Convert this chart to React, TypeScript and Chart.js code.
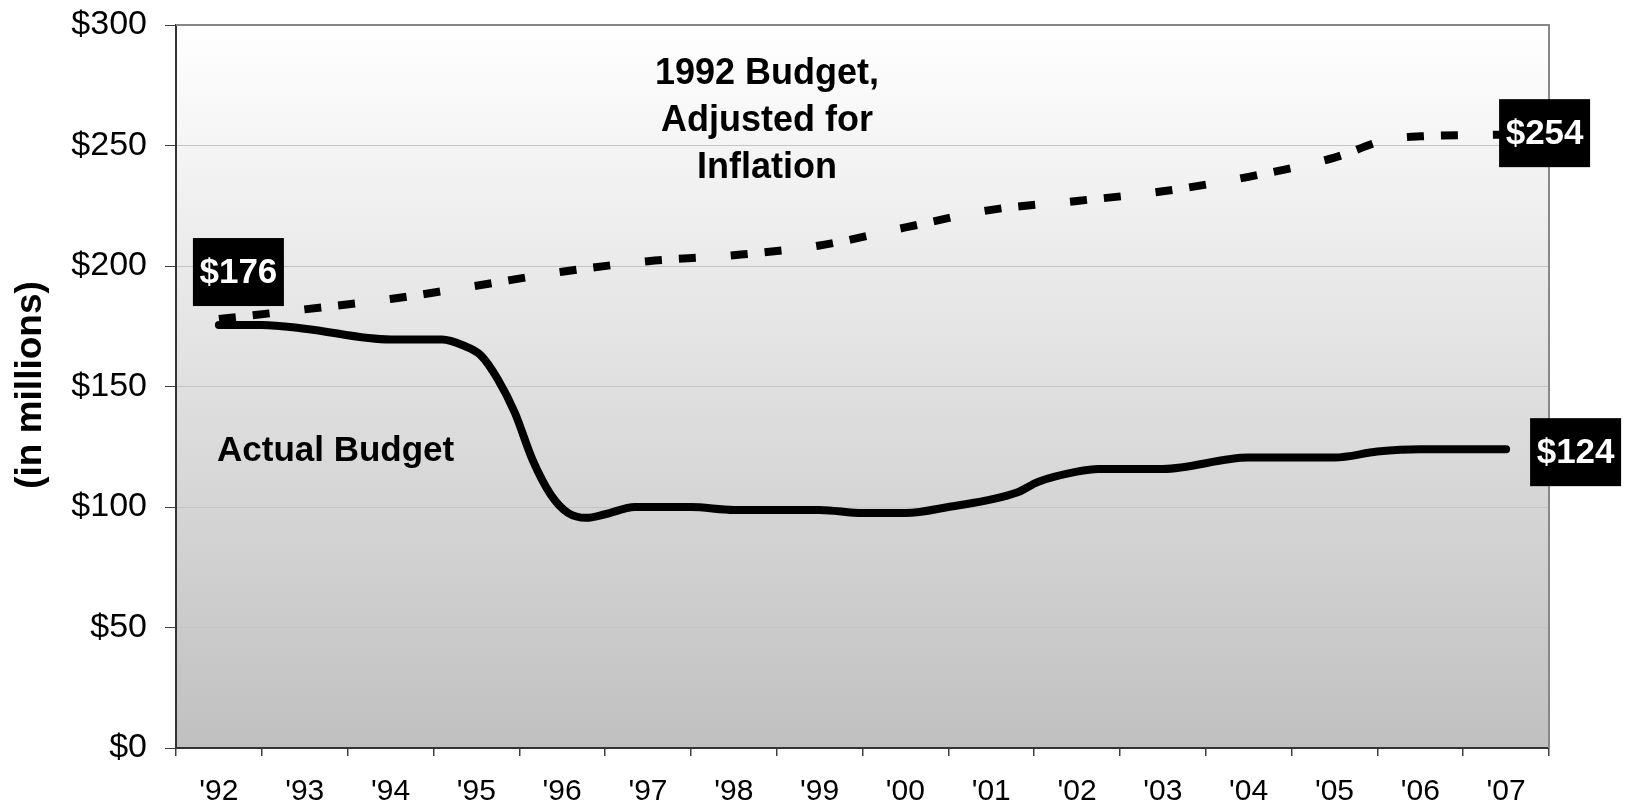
import React, { useEffect, useRef } from 'react';
import { Chart, registerables } from 'chart.js';

Chart.register(...registerables);

const FONT = "'Liberation Sans', Arial, Helvetica, sans-serif";

const YEAR_LABELS = ["'92", "'93", "'94", "'95", "'96", "'97", "'98", "'99", "'00", "'01", "'02", "'03", "'04", "'05", "'06", "'07"];

const ACTUAL_YEARS = [1992, 1992.5, 1993, 1994, 1994.6, 1994.85, 1995.05, 1995.25, 1995.45, 1995.65, 1995.87, 1996.07, 1996.28, 1996.5, 1996.85, 1997.5, 1998, 1999, 1999.5, 2000, 2000.5, 2001.3, 2001.55, 2002, 2002.25, 2003, 2004, 2005, 2005.5, 2006, 2007];
const ACTUAL_VALUES = [175.5, 175.5, 174, 169.5, 169.5, 167, 163, 153, 139, 120, 105, 97.5, 95.5, 97, 100, 100, 98.8, 98.8, 97.5, 97.5, 100, 106, 110.5, 114.7, 115.8, 115.8, 120.5, 120.5, 123, 124, 124];

const ADJUSTED_YEARS = [1992, 1993, 1994, 1995, 1996, 1997, 1998, 1999, 2000, 2001, 2002, 2003, 2004, 2005, 2005.6, 2006, 2007];
const ADJUSTED_VALUES = [178, 182, 186.3, 191.8, 197.6, 202, 204.5, 208.5, 216, 223.3, 227, 231, 237, 245, 252.3, 253.8, 254.5];

const Y_MIN = 0;
const Y_MAX = 300;
const Y_STEP = 50;

const CALLOUT_START = '$176';
const CALLOUT_ADJUSTED_END = '$254';
const CALLOUT_ACTUAL_END = '$124';
const NOTE_ADJUSTED = ['1992 Budget,', 'Adjusted for', 'Inflation'];
const NOTE_ACTUAL = 'Actual Budget';
const Y_TITLE = '(in millions)';

const toPoints = (xs: number[], ys: number[]) => xs.map((x, i) => ({ x, y: ys[i] }));

const decorPlugin = {
  id: 'decor',
  beforeDraw(chart: any) {
    const { ctx, chartArea: a } = chart;
    const g = ctx.createLinearGradient(0, a.top, 0, a.bottom);
    g.addColorStop(0, '#ffffff');
    g.addColorStop(1, '#c0c0c0');
    ctx.save();
    ctx.fillStyle = g;
    ctx.fillRect(a.left, a.top, a.right - a.left, a.bottom - a.top);
    ctx.restore();
  },
  beforeDatasetsDraw(chart: any) {
    const { ctx, chartArea: a } = chart;
    ctx.save();
    ctx.strokeStyle = '#888888';
    ctx.lineWidth = 2;
    ctx.beginPath();
    ctx.moveTo(a.left, a.top);
    ctx.lineTo(a.right, a.top);
    ctx.lineTo(a.right, a.bottom);
    ctx.stroke();
    ctx.restore();
  },
  afterDraw(chart: any) {
    const { ctx } = chart;
    const xs = chart.scales.x;
    const ys = chart.scales.y;

    const box = (text: string, cx: number, cy: number) => {
      const w = 91, h = 68;
      ctx.save();
      ctx.fillStyle = '#000000';
      ctx.fillRect(cx - w / 2, cy - h / 2, w, h);
      ctx.fillStyle = '#ffffff';
      ctx.font = `bold 35px ${FONT}`;
      ctx.textAlign = 'center';
      ctx.textBaseline = 'middle';
      ctx.fillText(text, cx, cy + 1);
      ctx.restore();
    };

    const sx = xs.getPixelForValue(ACTUAL_YEARS[0]);
    const sy = ys.getPixelForValue(ACTUAL_VALUES[0]);
    box(CALLOUT_START, sx + 19.5, sy - 53);

    const aLast = ADJUSTED_YEARS.length - 1;
    const ax = xs.getPixelForValue(ADJUSTED_YEARS[aLast]);
    const ay = ys.getPixelForValue(ADJUSTED_VALUES[aLast]);
    box(CALLOUT_ADJUSTED_END, ax + 38.5, ay - 1.5);

    const rLast = ACTUAL_YEARS.length - 1;
    const rx = xs.getPixelForValue(ACTUAL_YEARS[rLast]);
    const ry = ys.getPixelForValue(ACTUAL_VALUES[rLast]);
    box(CALLOUT_ACTUAL_END, rx + 69.5, ry + 3);

    ctx.save();
    ctx.fillStyle = '#000000';
    ctx.font = `bold 36px ${FONT}`;
    ctx.textAlign = 'center';
    ctx.textBaseline = 'alphabetic';
    NOTE_ADJUSTED.forEach((line, i) => {
      ctx.fillText(line, 767, 84 + i * 47);
    });
    ctx.font = `bold 35px ${FONT}`;
    ctx.textAlign = 'left';
    ctx.fillText(NOTE_ACTUAL, 217, 461);

    ctx.translate(31, 385);
    ctx.rotate(-Math.PI / 2);
    ctx.textAlign = 'center';
    ctx.textBaseline = 'middle';
    ctx.font = `bold 37px ${FONT}`;
    ctx.fillText(Y_TITLE, 0, 0);
    ctx.restore();
  },
};

export default function App() {
  const canvasRef = useRef<HTMLCanvasElement | null>(null);

  useEffect(() => {
    document.body.style.margin = '0';
    const canvas = canvasRef.current;
    if (!canvas) return;
    Chart.defaults.font.family = FONT;

    const chart = new Chart(canvas, {
      type: 'line',
      data: {
        labels: YEAR_LABELS,
        datasets: [
          {
            label: 'Actual Budget',
            data: toPoints(ACTUAL_YEARS, ACTUAL_VALUES),
            borderColor: '#000000',
            borderWidth: 8,
            borderCapStyle: 'round',
            borderJoinStyle: 'round',
            pointRadius: 0,
            cubicInterpolationMode: 'monotone',
            tension: 0.4,
            fill: false,
          },
          {
            label: '1992 Budget, Adjusted for Inflation',
            data: toPoints(ADJUSTED_YEARS, ADJUSTED_VALUES),
            borderColor: '#000000',
            borderWidth: 8,
            borderDash: [17, 17, 17, 35],
            borderCapStyle: 'butt',
            pointRadius: 0,
            cubicInterpolationMode: 'monotone',
            tension: 0.4,
            fill: false,
          },
        ],
      },
      options: {
        animation: false,
        responsive: false,
        devicePixelRatio: 1,
        layout: { padding: { top: 25, right: 80, left: 0, bottom: 0 } },
        plugins: {
          legend: { display: false },
          tooltip: { enabled: false },
          title: { display: false },
        },
        scales: {
          x: {
            type: 'linear',
            min: 1991.5,
            max: 2007.5,
            display: false,
          },
          xCat: {
            type: 'category',
            labels: YEAR_LABELS,
            position: 'bottom',
            offset: true,
            grid: {
              offset: true,
              drawOnChartArea: false,
              drawTicks: true,
              tickLength: 8,
              color: '#404040',
              lineWidth: 1.5,
            },
            border: { display: true, color: '#333333', width: 2 },
            ticks: {
              font: { family: FONT, size: 30 },
              color: '#000000',
              padding: 18,
              maxRotation: 0,
              autoSkip: false,
            },
            afterFit: (s: any) => {
              s.height = 60;
              s.paddingLeft = 0;
              s.paddingRight = 0;
            },
          },
          y: {
            type: 'linear',
            min: Y_MIN,
            max: Y_MAX,
            ticks: {
              stepSize: Y_STEP,
              callback: (v: any) => '$' + v,
              font: { family: FONT, size: 34 },
              color: '#000000',
              padding: 18,
            },
            grid: {
              color: '#c4c4c4',
              lineWidth: 1,
              tickLength: 11,
              tickColor: '#404040',
              drawTicks: true,
            },
            border: { display: true, color: '#333333', width: 2 },
            afterFit: (s: any) => {
              s.width = 176;
              s.paddingTop = 0;
              s.paddingBottom = 0;
            },
          },
        },
      },
      plugins: [decorPlugin],
    } as any);

    return () => {
      chart.destroy();
    };
  }, []);

  return (
    <div style={{ width: 1629, height: 808, background: '#ffffff' }}>
      <canvas ref={canvasRef} width={1629} height={808} style={{ display: 'block' }} />
    </div>
  );
}
